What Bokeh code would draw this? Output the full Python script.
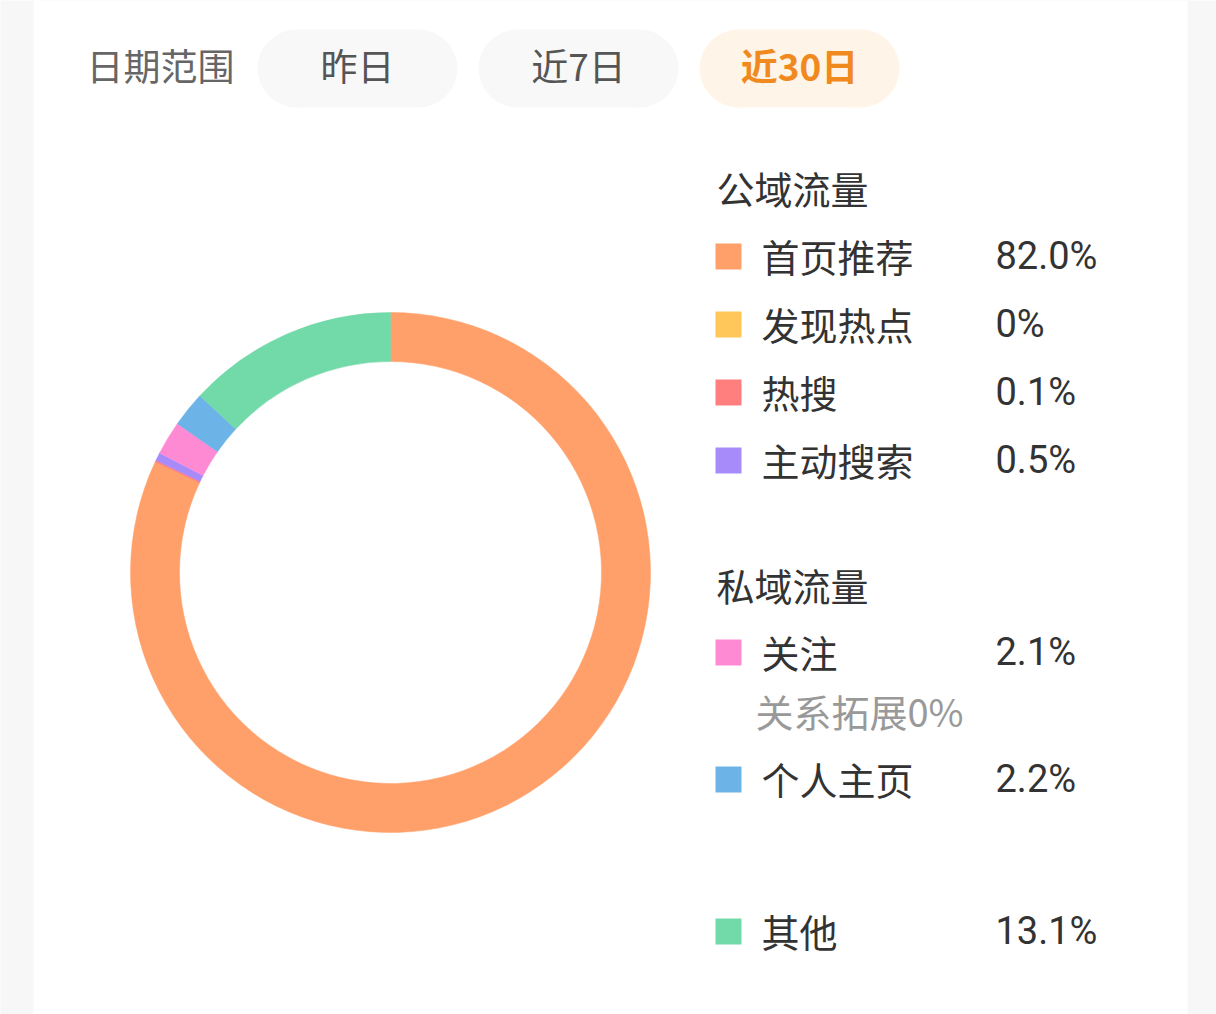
import math
from bokeh.plotting import figure
from bokeh.models import Range1d
from bokeh.core.properties import value
from bokeh.embed import file_html
from bokeh.resources import INLINE

# ---------------- data ----------------
date_label = "日期范围"
range_options = ["昨日", "近7日", "近30日"]
active_option = "近30日"

group_titles = ["公域流量", "私域流量"]
public_names = ["首页推荐", "发现热点", "热搜", "主动搜索"]
public_values = [82.0, 0.0, 0.1, 0.5]
private_names = ["关注", "关系拓展", "个人主页"]
private_values = [2.1, 0.0, 2.2]
other_names = ["其他"]
other_values = [13.1]

# ---------------- styles ----------------
colors = {
    "首页推荐": "#FFA06A",
    "发现热点": "#FFC65A",
    "热搜": "#FF7E7E",
    "主动搜索": "#A88BFA",
    "关注": "#FF8AD4",
    "关系拓展": "#FF8AD4",
    "个人主页": "#6CB4E8",
    "其他": "#72D9A8",
}
CJK = value("Noto Sans CJK SC")
NUM = value("Roboto")

W, H = 1216, 1014
PAGE_H = 1014
TDY = -3  # vertical text correction


def Y(y):
    return PAGE_H - y


def TY(y):
    return PAGE_H - (y + TDY)


def fmt(v):
    return "0%" if v == 0 else f"{v:.1f}%"


p = figure(width=W, height=H, x_range=Range1d(0, W), y_range=Range1d(0, H),
           output_backend="svg", toolbar_location=None,
           x_axis_type=None, y_axis_type=None, min_border=0,
           background_fill_color="#f7f7f7", border_fill_color="#f7f7f7",
           outline_line_color=None)
p.grid.visible = False

# card
p.quad(left=[33], right=[1187], bottom=[Y(1014)], top=[Y(0)],
       fill_color="white", line_color=None)

# ---------------- header pills ----------------
p.text(x=[86], y=[TY(67)], text=[date_label], text_font=CJK, text_font_size="37px",
       text_color="#666666", text_align="left", text_baseline="middle")

pill_cx = [357, 578, 799]
pill_w, pill_h = 200, 78
for cx, opt in zip(pill_cx, range_options):
    active = opt == active_option
    fill = "#FFF4E8" if active else "#F8F8F8"
    p.rect(x=[cx], y=[Y(68)], width=pill_w - pill_h, height=pill_h,
           fill_color=fill, line_color=None)
    p.circle(x=[cx - (pill_w - pill_h) / 2, cx + (pill_w - pill_h) / 2],
             y=[Y(68), Y(68)], radius=pill_h / 2, fill_color=fill, line_color=None)
    p.text(x=[cx], y=[TY(67)], text=[opt], text_font=CJK, text_font_size="37px",
           text_color="#F08A1E" if active else "#555555",
           text_font_style="bold" if active else "normal",
           text_align="center", text_baseline="middle")

# ---------------- donut ----------------
all_names = public_names + private_names + other_names
all_values = public_values + private_values + other_values
total = sum(all_values)
cum = 0.0
starts, ends, fills = [], [], []
for n, v in zip(all_names, all_values):
    if v > 0:
        starts.append(math.pi / 2 - 2 * math.pi * cum / total)
        ends.append(math.pi / 2 - 2 * math.pi * (cum + v) / total)
        fills.append(colors[n])
    cum += v
p.annular_wedge(x=390, y=Y(572), inner_radius=211, outer_radius=260,
                start_angle=starts, end_angle=ends, direction="clock",
                fill_color=fills, line_color=fills, line_width=0.5)

# ---------------- legend ----------------
title_y = [190, 587]
public_row_y = [258, 326, 394, 462]
private_row_y = [654, 713, 781]
other_row_y = [933]

p.text(x=[716, 716], y=[TY(t) for t in title_y], text=group_titles, text_font=CJK,
       text_font_size="38px", text_color="#333333", text_align="left",
       text_baseline="middle")


def legend_rows(names, vals, rows):
    for n, v, ry in zip(names, vals, rows):
        if n == "关系拓展":
            p.text(x=[755], y=[TY(ry)], text=[n + fmt(v)], text_font=CJK,
                   text_font_size="38px", text_color="#999999",
                   text_align="left", text_baseline="middle")
            continue
        p.rect(x=[728], y=[Y(ry - 2)], width=26, height=26,
               fill_color=colors[n], line_color=None)
        p.text(x=[761], y=[TY(ry)], text=[n], text_font=CJK, text_font_size="38px",
               text_color="#333333", text_align="left", text_baseline="middle")
        p.text(x=[995], y=[TY(ry)], text=[fmt(v)], text_font=NUM,
               text_font_size="38px", text_color="#333333", text_align="left",
               text_baseline="middle")


legend_rows(public_names, public_values, public_row_y)
legend_rows(private_names, private_values, private_row_y)
legend_rows(other_names, other_values, other_row_y)

open("out.html", "w").write(file_html(p, INLINE))
